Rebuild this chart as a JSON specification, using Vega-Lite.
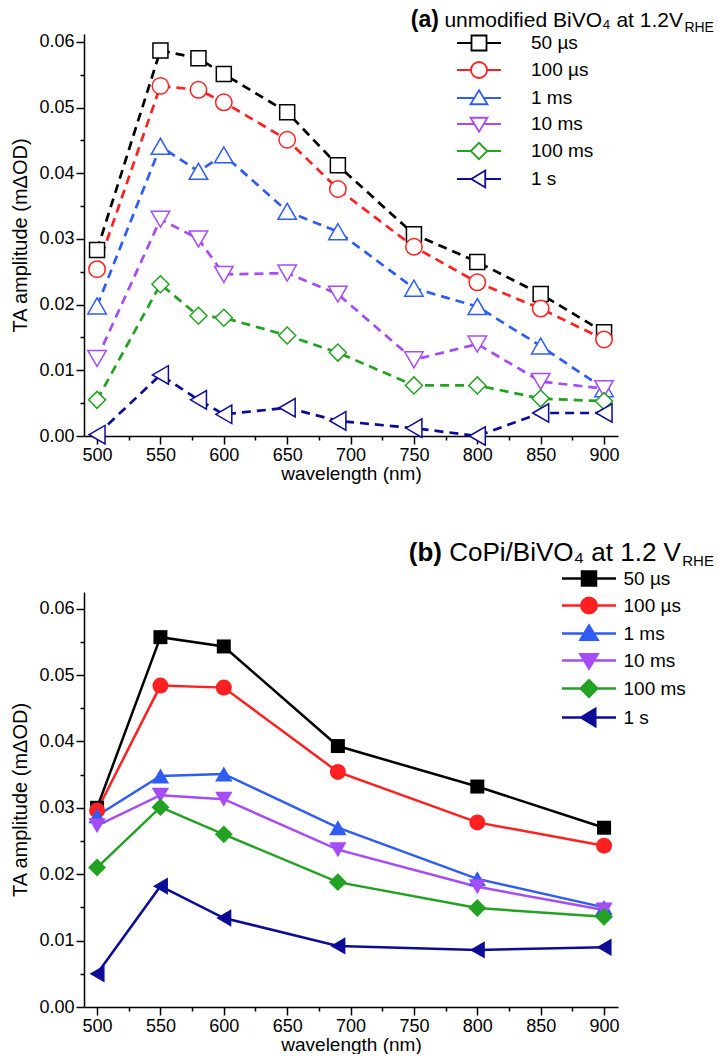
{
  "$schema": "https://vega.github.io/schema/vega-lite/v6.json",
  "background": "white",
  "padding": {"left": 10, "top": 8, "right": 0, "bottom": 0},
  "config": {
    "view": {"stroke": null},
    "font": "Liberation Sans",
    "axis": {"domainColor": "black", "domainWidth": 1.5, "tickColor": "black", "tickWidth": 1.5, "labelColor": "black", "titleColor": "black", "labelFontSize": 18, "titleFontSize": 19, "titleFontWeight": "normal", "grid": false, "labelFont": "Liberation Sans", "titleFont": "Liberation Sans"},
    "text": {"font": "Liberation Sans", "color": "black"}
  },
  "resolve": {"scale": {"stroke": "independent", "fill": "independent", "shape": "independent", "color": "independent"}},
  "datasets": {
    "a": [
      {"series": "50 µs", "wl": 500, "v": 0.0283}, {"series": "50 µs", "wl": 550, "v": 0.0587}, {"series": "50 µs", "wl": 580, "v": 0.0575}, {"series": "50 µs", "wl": 600, "v": 0.0551}, {"series": "50 µs", "wl": 650, "v": 0.0493}, {"series": "50 µs", "wl": 690, "v": 0.0412}, {"series": "50 µs", "wl": 750, "v": 0.0307}, {"series": "50 µs", "wl": 800, "v": 0.0265}, {"series": "50 µs", "wl": 850, "v": 0.0216}, {"series": "50 µs", "wl": 900, "v": 0.0158},
      {"series": "100 µs", "wl": 500, "v": 0.0254}, {"series": "100 µs", "wl": 550, "v": 0.0533}, {"series": "100 µs", "wl": 580, "v": 0.0527}, {"series": "100 µs", "wl": 600, "v": 0.0508}, {"series": "100 µs", "wl": 650, "v": 0.0451}, {"series": "100 µs", "wl": 690, "v": 0.0376}, {"series": "100 µs", "wl": 750, "v": 0.0288}, {"series": "100 µs", "wl": 800, "v": 0.0234}, {"series": "100 µs", "wl": 850, "v": 0.0194}, {"series": "100 µs", "wl": 900, "v": 0.0147},
      {"series": "1 ms", "wl": 500, "v": 0.0198}, {"series": "1 ms", "wl": 550, "v": 0.0441}, {"series": "1 ms", "wl": 580, "v": 0.0403}, {"series": "1 ms", "wl": 600, "v": 0.0428}, {"series": "1 ms", "wl": 650, "v": 0.0342}, {"series": "1 ms", "wl": 690, "v": 0.0311}, {"series": "1 ms", "wl": 750, "v": 0.0225}, {"series": "1 ms", "wl": 800, "v": 0.0197}, {"series": "1 ms", "wl": 850, "v": 0.0137}, {"series": "1 ms", "wl": 900, "v": 0.0072},
      {"series": "10 ms", "wl": 500, "v": 0.0118}, {"series": "10 ms", "wl": 550, "v": 0.0330}, {"series": "10 ms", "wl": 580, "v": 0.0300}, {"series": "10 ms", "wl": 600, "v": 0.0246}, {"series": "10 ms", "wl": 650, "v": 0.0248}, {"series": "10 ms", "wl": 690, "v": 0.0216}, {"series": "10 ms", "wl": 750, "v": 0.0116}, {"series": "10 ms", "wl": 800, "v": 0.0140}, {"series": "10 ms", "wl": 850, "v": 0.0083}, {"series": "10 ms", "wl": 900, "v": 0.0072},
      {"series": "100 ms", "wl": 500, "v": 0.0055}, {"series": "100 ms", "wl": 550, "v": 0.0231}, {"series": "100 ms", "wl": 580, "v": 0.0183}, {"series": "100 ms", "wl": 600, "v": 0.0180}, {"series": "100 ms", "wl": 650, "v": 0.0153}, {"series": "100 ms", "wl": 690, "v": 0.0127}, {"series": "100 ms", "wl": 750, "v": 0.0077}, {"series": "100 ms", "wl": 800, "v": 0.0077}, {"series": "100 ms", "wl": 850, "v": 0.0057}, {"series": "100 ms", "wl": 900, "v": 0.0053},
      {"series": "1 s", "wl": 500, "v": 0.0002}, {"series": "1 s", "wl": 550, "v": 0.0093}, {"series": "1 s", "wl": 580, "v": 0.0055}, {"series": "1 s", "wl": 600, "v": 0.0033}, {"series": "1 s", "wl": 650, "v": 0.0043}, {"series": "1 s", "wl": 690, "v": 0.0023}, {"series": "1 s", "wl": 750, "v": 0.0012}, {"series": "1 s", "wl": 800, "v": 0.0000}, {"series": "1 s", "wl": 850, "v": 0.0035}, {"series": "1 s", "wl": 900, "v": 0.0035}
    ],
    "b": [
      {"series": "50 µs", "wl": 500, "v": 0.0300}, {"series": "50 µs", "wl": 550, "v": 0.0557}, {"series": "50 µs", "wl": 600, "v": 0.0543}, {"series": "50 µs", "wl": 690, "v": 0.0393}, {"series": "50 µs", "wl": 800, "v": 0.0332}, {"series": "50 µs", "wl": 900, "v": 0.0270},
      {"series": "100 µs", "wl": 500, "v": 0.0296}, {"series": "100 µs", "wl": 550, "v": 0.0484}, {"series": "100 µs", "wl": 600, "v": 0.0481}, {"series": "100 µs", "wl": 690, "v": 0.0354}, {"series": "100 µs", "wl": 800, "v": 0.0278}, {"series": "100 µs", "wl": 900, "v": 0.0243},
      {"series": "1 ms", "wl": 500, "v": 0.0288}, {"series": "1 ms", "wl": 550, "v": 0.0348}, {"series": "1 ms", "wl": 600, "v": 0.0351}, {"series": "1 ms", "wl": 690, "v": 0.0270}, {"series": "1 ms", "wl": 800, "v": 0.0193}, {"series": "1 ms", "wl": 900, "v": 0.0150},
      {"series": "10 ms", "wl": 500, "v": 0.0273}, {"series": "10 ms", "wl": 550, "v": 0.0319}, {"series": "10 ms", "wl": 600, "v": 0.0313}, {"series": "10 ms", "wl": 690, "v": 0.0237}, {"series": "10 ms", "wl": 800, "v": 0.0181}, {"series": "10 ms", "wl": 900, "v": 0.0146},
      {"series": "100 ms", "wl": 500, "v": 0.0210}, {"series": "100 ms", "wl": 550, "v": 0.0301}, {"series": "100 ms", "wl": 600, "v": 0.0260}, {"series": "100 ms", "wl": 690, "v": 0.0188}, {"series": "100 ms", "wl": 800, "v": 0.0149}, {"series": "100 ms", "wl": 900, "v": 0.0136},
      {"series": "1 s", "wl": 500, "v": 0.0050}, {"series": "1 s", "wl": 550, "v": 0.0182}, {"series": "1 s", "wl": 600, "v": 0.0134}, {"series": "1 s", "wl": 690, "v": 0.0092}, {"series": "1 s", "wl": 800, "v": 0.0086}, {"series": "1 s", "wl": 900, "v": 0.0090}
    ]
  },
  "bounds": "flush",
  "spacing": 156,
  "vconcat": [
    {
      "width": 534,
      "height": 402,
      "data": {"name": "a"},
      "resolve": {"axis": {"x": "independent", "y": "independent"}},
      "layer": [
        {
          "mark": {"type": "point", "filled": false, "size": 0, "strokeWidth": 1.8, "opacity": 1},
          "encoding": {
            "x": {"field": "wl", "type": "quantitative", "scale": {"domain": [489.7, 911], "nice": false, "zero": false}, "axis": null},
            "y": {"field": "v", "type": "quantitative", "scale": {"domain": [0, 0.0612], "nice": false, "zero": false}, "axis": null},
            "stroke": {"field": "series", "type": "nominal", "scale": {"domain": ["50 µs", "100 µs", "1 ms", "10 ms", "100 ms", "1 s"], "range": ["#000000", "#ff2121", "#2f5cf5", "#a54cf7", "#23a123", "#0c0c96"]},
              "legend": {"title": null, "orient": "none", "legendX": 381.5, "legendY": -4.5, "padding": 0, "rowPadding": 2, "symbolSize": 625, "symbolStrokeWidth": 1.8, "symbolFillColor": "white", "labelFontSize": 19, "labelOffset": 38.5, "labelFont": "Liberation Sans", "labelColor": "black", "labelBaseline": "middle"}},
            "shape": {"field": "series", "type": "nominal", "scale": {"domain": ["50 µs", "100 µs", "1 ms", "10 ms", "100 ms", "1 s"], "range": [
              "M-1.76,0L-0.6,0M0.6,0L1.76,0M-0.6,-0.6L0.6,-0.6L0.6,0.6L-0.6,0.6Z",
              "M-1.76,0L-0.64,0M0.64,0L1.76,0M0.64,0A0.64,0.64,0,1,1,-0.64,0A0.64,0.64,0,1,1,0.64,0Z",
              "M-1.76,0L-0.38,0M0.38,0L1.76,0M0,-0.62L0.68,0.5L-0.68,0.5Z",
              "M-1.76,0L-0.38,0M0.38,0L1.76,0M0,0.62L0.68,-0.5L-0.68,-0.5Z",
              "M-1.76,0L-0.66,0M0.66,0L1.76,0M0,-0.66L0.66,0L0,0.66L-0.66,0Z",
              "M-1.76,0L-0.62,0M0.5,0L1.76,0M-0.62,0L0.5,-0.68L0.5,0.68Z"
            ]}}
          }
        },
        {
          "mark": {"type": "line", "strokeWidth": 2.7, "strokeDash": [9, 6]},
          "encoding": {
            "x": {"field": "wl", "type": "quantitative", "scale": {"domain": [489.7, 911], "nice": false, "zero": false}, "axis": {"orient": "bottom", "values": [525, 575, 625, 675, 725, 775, 825, 875], "labels": false, "domain": false, "tickSize": 4, "title": null}},
            "y": {"field": "v", "type": "quantitative", "scale": {"domain": [0, 0.0612], "nice": false, "zero": false}, "axis": {"orient": "left", "values": [0.005, 0.015, 0.025, 0.035, 0.045, 0.055], "labels": false, "domain": false, "tickSize": 4, "title": null}},
            "stroke": {"field": "series", "type": "nominal"}
          }
        },
        {
          "transform": [{"filter": "datum.series == '50 µs'"}],
          "mark": {"type": "point", "shape": "square", "filled": false, "fill": "white", "strokeWidth": 1.5, "opacity": 1, "size": 225},
          "encoding": {
            "x": {"field": "wl", "type": "quantitative", "scale": {"domain": [489.7, 911], "nice": false, "zero": false}, "axis": {"orient": "bottom", "values": [500, 550, 600, 650, 700, 750, 800, 850, 900], "format": "d", "tickSize": 8, "labelPadding": 2, "titlePadding": 0, "title": "wavelength (nm)"}},
            "y": {"field": "v", "type": "quantitative", "scale": {"domain": [0, 0.0612], "nice": false, "zero": false}, "axis": {"orient": "left", "values": [0, 0.01, 0.02, 0.03, 0.04, 0.05, 0.06], "format": ".2f", "tickSize": 8, "labelPadding": 2, "titlePadding": 8, "titleFontSize": 20, "title": "TA amplitude (mΔOD)"}},
            "stroke": {"field": "series", "type": "nominal"}
          }
        },
        {
          "transform": [{"filter": "datum.series == '100 µs'"}],
          "mark": {"type": "point", "shape": "circle", "filled": false, "fill": "white", "strokeWidth": 1.5, "opacity": 1, "size": 270},
          "encoding": {
            "x": {"field": "wl", "type": "quantitative", "axis": null},
            "y": {"field": "v", "type": "quantitative", "axis": null},
            "stroke": {"field": "series", "type": "nominal"}
          }
        },
        {
          "transform": [{"filter": "datum.series == '1 ms'"}],
          "mark": {"type": "point", "shape": "triangle-up", "filled": false, "fill": "white", "strokeWidth": 1.5, "opacity": 1, "size": 340},
          "encoding": {
            "x": {"field": "wl", "type": "quantitative", "axis": null},
            "y": {"field": "v", "type": "quantitative", "axis": null},
            "stroke": {"field": "series", "type": "nominal"}
          }
        },
        {
          "transform": [{"filter": "datum.series == '10 ms'"}],
          "mark": {"type": "point", "shape": "triangle-down", "filled": false, "fill": "white", "strokeWidth": 1.5, "opacity": 1, "size": 340},
          "encoding": {
            "x": {"field": "wl", "type": "quantitative", "axis": null},
            "y": {"field": "v", "type": "quantitative", "axis": null},
            "stroke": {"field": "series", "type": "nominal"}
          }
        },
        {
          "transform": [{"filter": "datum.series == '100 ms'"}],
          "mark": {"type": "point", "shape": "diamond", "filled": false, "fill": "white", "strokeWidth": 1.5, "opacity": 1, "size": 290},
          "encoding": {
            "x": {"field": "wl", "type": "quantitative", "axis": null},
            "y": {"field": "v", "type": "quantitative", "axis": null},
            "stroke": {"field": "series", "type": "nominal"}
          }
        },
        {
          "transform": [{"filter": "datum.series == '1 s'"}],
          "mark": {"type": "point", "shape": "triangle-left", "filled": false, "fill": "white", "strokeWidth": 1.5, "opacity": 1, "size": 340},
          "encoding": {
            "x": {"field": "wl", "type": "quantitative", "axis": null},
            "y": {"field": "v", "type": "quantitative", "axis": null},
            "stroke": {"field": "series", "type": "nominal"}
          }
        },
        {
          "data": {"values": [{"label": "RHE"}]},
          "mark": {"type": "text", "align": "right", "baseline": "alphabetic", "fontSize": 14, "dy": 5},
          "encoding": {
            "text": {"field": "label"},
            "x": {"datum": 986.7, "type": "quantitative", "axis": null},
            "y": {"datum": 0.06227, "type": "quantitative", "axis": null}
          }
        },
        {
          "data": {"values": [{"label": "unmodified BiVO₄ at 1.2V"}]},
          "mark": {"type": "text", "align": "right", "baseline": "alphabetic", "fontSize": 21, "dx": -31},
          "encoding": {
            "text": {"field": "label"},
            "x": {"datum": 986.7, "type": "quantitative", "axis": null},
            "y": {"datum": 0.06227, "type": "quantitative", "axis": null}
          }
        },
        {
          "data": {"values": [{"label": "(a)"}]},
          "mark": {"type": "text", "align": "right", "baseline": "alphabetic", "fontSize": 23, "fontWeight": "bold", "dx": -275},
          "encoding": {
            "text": {"field": "label"},
            "x": {"datum": 986.7, "type": "quantitative", "axis": null},
            "y": {"datum": 0.06227, "type": "quantitative", "axis": null}
          }
        }
      ]
    },
    {
      "width": 534,
      "height": 415,
      "data": {"name": "b"},
      "resolve": {"axis": {"x": "independent", "y": "independent"}},
      "layer": [
        {
          "mark": {"type": "point", "filled": true, "size": 0, "strokeWidth": 2.5, "opacity": 1},
          "encoding": {
            "x": {"field": "wl", "type": "quantitative", "scale": {"domain": [489.7, 911], "nice": false, "zero": false}, "axis": null},
            "y": {"field": "v", "type": "quantitative", "scale": {"domain": [0, 0.0625], "nice": false, "zero": false}, "axis": null},
            "fill": {"field": "series", "type": "nominal", "scale": {"domain": ["50 µs", "100 µs", "1 ms", "10 ms", "100 ms", "1 s"], "range": ["#000000", "#ff2121", "#2f5cf5", "#a54cf7", "#23a123", "#0c0c96"]},
              "legend": {"title": null, "orient": "none", "legendX": 491, "legendY": -27.5, "padding": 0, "rowPadding": 1, "symbolSize": 625, "symbolStrokeWidth": 2.5, "labelFontSize": 19, "labelOffset": 20.5, "labelFont": "Liberation Sans", "labelColor": "black", "labelBaseline": "middle"}},
            "stroke": {"field": "series", "type": "nominal", "scale": {"domain": ["50 µs", "100 µs", "1 ms", "10 ms", "100 ms", "1 s"], "range": ["#000000", "#ff2121", "#2f5cf5", "#a54cf7", "#23a123", "#0c0c96"]},
              "legend": {"title": null, "orient": "none", "legendX": 491, "legendY": -27.5, "padding": 0, "rowPadding": 1, "symbolSize": 625, "symbolStrokeWidth": 2.5, "labelFontSize": 19, "labelOffset": 20.5, "labelFont": "Liberation Sans", "labelColor": "black", "labelBaseline": "middle"}},
            "shape": {"field": "series", "type": "nominal", "scale": {"domain": ["50 µs", "100 µs", "1 ms", "10 ms", "100 ms", "1 s"], "range": [
              "M-2.16,0L2.16,0M-0.56,-0.56L0.56,-0.56L0.56,0.56L-0.56,0.56Z",
              "M-2.16,0L2.16,0M0.62,0A0.62,0.62,0,1,1,-0.62,0A0.62,0.62,0,1,1,0.62,0Z",
              "M-2.16,0L2.16,0M0,-0.62L0.68,0.5L-0.68,0.5Z",
              "M-2.16,0L2.16,0M0,0.62L0.68,-0.5L-0.68,-0.5Z",
              "M-2.16,0L2.16,0M0,-0.66L0.66,0L0,0.66L-0.66,0Z",
              "M-2.16,0L2.16,0M-0.62,0L0.5,-0.68L0.5,0.68Z"
            ]}}
          }
        },
        {
          "mark": {"type": "line", "strokeWidth": 2.5},
          "encoding": {
            "x": {"field": "wl", "type": "quantitative", "scale": {"domain": [489.7, 911], "nice": false, "zero": false}, "axis": {"orient": "bottom", "values": [525, 575, 625, 675, 725, 775, 825, 875], "labels": false, "domain": false, "tickSize": 4, "title": null}},
            "y": {"field": "v", "type": "quantitative", "scale": {"domain": [0, 0.0625], "nice": false, "zero": false}, "axis": {"orient": "left", "values": [0.005, 0.015, 0.025, 0.035, 0.045, 0.055], "labels": false, "domain": false, "tickSize": 4, "title": null}},
            "stroke": {"field": "series", "type": "nominal"}
          }
        },
        {
          "transform": [{"filter": "datum.series == '50 µs'"}],
          "mark": {"type": "point", "shape": "square", "filled": true, "opacity": 1, "size": 196},
          "encoding": {
            "x": {"field": "wl", "type": "quantitative", "scale": {"domain": [489.7, 911], "nice": false, "zero": false}, "axis": {"orient": "bottom", "values": [500, 550, 600, 650, 700, 750, 800, 850, 900], "format": "d", "tickSize": 8, "labelPadding": 2, "titlePadding": 0, "title": "wavelength (nm)"}},
            "y": {"field": "v", "type": "quantitative", "scale": {"domain": [0, 0.0625], "nice": false, "zero": false}, "axis": {"orient": "left", "values": [0, 0.01, 0.02, 0.03, 0.04, 0.05, 0.06], "format": ".2f", "tickSize": 8, "labelPadding": 2, "titlePadding": 8, "titleFontSize": 20, "title": "TA amplitude (mΔOD)"}},
            "fill": {"field": "series", "type": "nominal"}
          }
        },
        {
          "transform": [{"filter": "datum.series == '100 µs'"}],
          "mark": {"type": "point", "shape": "circle", "filled": true, "opacity": 1, "size": 256},
          "encoding": {
            "x": {"field": "wl", "type": "quantitative", "axis": null},
            "y": {"field": "v", "type": "quantitative", "axis": null},
            "fill": {"field": "series", "type": "nominal"}
          }
        },
        {
          "transform": [{"filter": "datum.series == '1 ms'"}],
          "mark": {"type": "point", "shape": "triangle-up", "filled": true, "opacity": 1, "size": 300},
          "encoding": {
            "x": {"field": "wl", "type": "quantitative", "axis": null},
            "y": {"field": "v", "type": "quantitative", "axis": null},
            "fill": {"field": "series", "type": "nominal"}
          }
        },
        {
          "transform": [{"filter": "datum.series == '10 ms'"}],
          "mark": {"type": "point", "shape": "triangle-down", "filled": true, "opacity": 1, "size": 300},
          "encoding": {
            "x": {"field": "wl", "type": "quantitative", "axis": null},
            "y": {"field": "v", "type": "quantitative", "axis": null},
            "fill": {"field": "series", "type": "nominal"}
          }
        },
        {
          "transform": [{"filter": "datum.series == '100 ms'"}],
          "mark": {"type": "point", "shape": "diamond", "filled": true, "opacity": 1, "size": 320},
          "encoding": {
            "x": {"field": "wl", "type": "quantitative", "axis": null},
            "y": {"field": "v", "type": "quantitative", "axis": null},
            "fill": {"field": "series", "type": "nominal"}
          }
        },
        {
          "transform": [{"filter": "datum.series == '1 s'"}],
          "mark": {"type": "point", "shape": "triangle-left", "filled": true, "opacity": 1, "size": 300},
          "encoding": {
            "x": {"field": "wl", "type": "quantitative", "axis": null},
            "y": {"field": "v", "type": "quantitative", "axis": null},
            "fill": {"field": "series", "type": "nominal"}
          }
        },
        {
          "data": {"values": [{"label": "RHE"}]},
          "mark": {"type": "text", "align": "right", "baseline": "alphabetic", "fontSize": 15, "dy": 5},
          "encoding": {
            "text": {"field": "label"},
            "x": {"datum": 986.7, "type": "quantitative", "axis": null},
            "y": {"datum": 0.06717, "type": "quantitative", "axis": null}
          }
        },
        {
          "data": {"values": [{"label": "CoPi/BiVO₄ at 1.2 V"}]},
          "mark": {"type": "text", "align": "right", "baseline": "alphabetic", "fontSize": 26, "dx": -33},
          "encoding": {
            "text": {"field": "label"},
            "x": {"datum": 986.7, "type": "quantitative", "axis": null},
            "y": {"datum": 0.06717, "type": "quantitative", "axis": null}
          }
        },
        {
          "data": {"values": [{"label": "(b)"}]},
          "mark": {"type": "text", "align": "right", "baseline": "alphabetic", "fontSize": 26, "fontWeight": "bold", "dx": -272},
          "encoding": {
            "text": {"field": "label"},
            "x": {"datum": 986.7, "type": "quantitative", "axis": null},
            "y": {"datum": 0.06717, "type": "quantitative", "axis": null}
          }
        }
      ]
    }
  ]
}
